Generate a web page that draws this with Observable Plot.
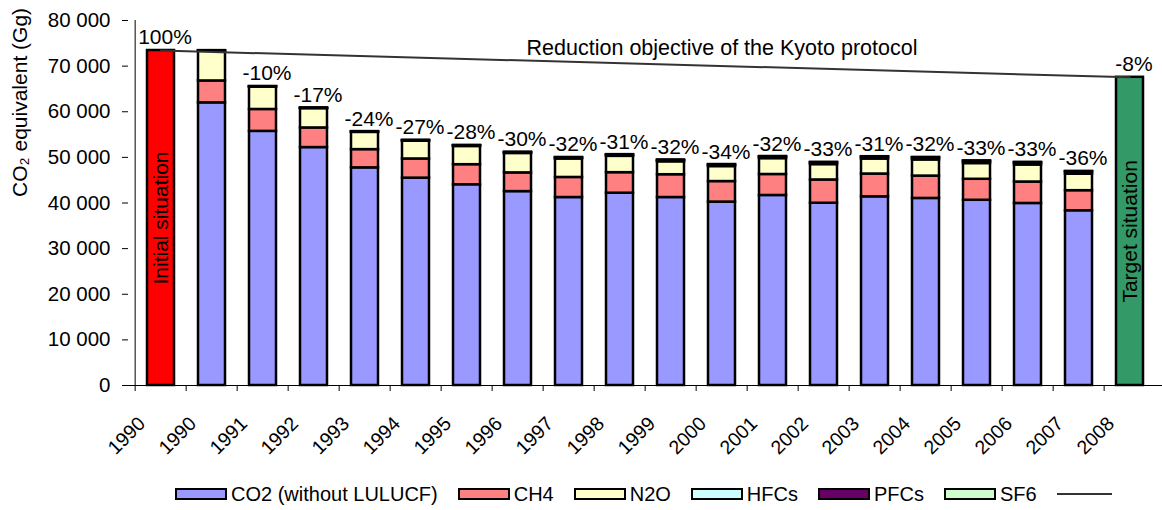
<!DOCTYPE html>
<html>
<head>
<meta charset="utf-8">
<script src="https://cdn.jsdelivr.net/npm/d3@7"></script>
<script src="https://cdn.jsdelivr.net/npm/@observablehq/plot@0.6"></script>
<style>
  html, body { margin: 0; padding: 0; background: #fff; }
  body { width: 1162px; height: 510px; overflow: hidden; font-family: "Liberation Sans", Arial, sans-serif; }
  #legend { display: flex; align-items: center; height: 32px; padding-left: 175px; font-size: 20px; color: #000; margin-top: 5px; }
  #legend .item { display: flex; align-items: center; margin-right: 20px; }
  #legend .sw { display: inline-block; width: 48px; height: 8px; border: 2px solid #000; margin-right: 4px; }
  #legend .ln { display: inline-block; width: 55px; height: 2px; background: #333; }
</style>
</head>
<body>
<div id="chart"></div>
<div id="legend"></div>
<script>
// ---- data ----
const keys = ["init", "1990", "1991", "1992", "1993", "1994", "1995", "1996", "1997", "1998", "1999",
              "2000", "2001", "2002", "2003", "2004", "2005", "2006", "2007", "target"];
const tickLabels = ["1990", "1990", "1991", "1992", "1993", "1994", "1995", "1996", "1997", "1998", "1999",
                    "2000", "2001", "2002", "2003", "2004", "2005", "2006", "2007", "2008"];
const years = ["1990", "1991", "1992", "1993", "1994", "1995", "1996", "1997", "1998", "1999",
               "2000", "2001", "2002", "2003", "2004", "2005", "2006", "2007"];
const co2  = [61950, 55700, 52150, 47700, 45450, 44000, 42500, 41200, 42150, 41200, 40200, 41650, 39950, 41350, 41000, 40600, 39900, 38300];
const ch4  = [4800, 4800, 4300, 4000, 4200, 4400, 4100, 4400, 4500, 5000, 4500, 4600, 5100, 5000, 4900, 4600, 4700, 4400];
const n2o  = [6550, 4930, 4250, 3780, 3890, 3990, 4260, 4050, 3580, 2830, 3290, 3480, 3370, 3290, 3540, 3450, 3730, 3610];
const hfcs = [0, 10, 30, 70, 110, 140, 170, 220, 260, 280, 330, 350, 390, 410, 450, 470, 490, 530];
const pfcs = [40, 40, 30, 30, 20, 20, 20, 20, 20, 20, 10, 10, 10, 10, 10, 10, 10, 10];
const sf6  = [60, 60, 70, 70, 80, 80, 80, 90, 90, 90, 100, 100, 100, 90, 90, 90, 80, 80];
const seriesNames = ["CO2 (without LULUCF)", "CH4", "N2O", "HFCs", "PFCs", "SF6"];
const seriesColors = ["#9999ff", "#ff8080", "#ffffcc", "#ccffff", "#660066", "#ccffcc"];
const initialValue = 73425;
const targetValue = 67550;
const initialLabel = "Initial situation";
const targetLabel = "Target situation";
const pctKeys = ["init", "1991", "1992", "1993", "1994", "1995", "1996", "1997", "1998", "1999",
                 "2000", "2001", "2002", "2003", "2004", "2005", "2006", "2007", "target"];
const pctLabels = ["100%", "-10%", "-17%", "-24%", "-27%", "-28%", "-30%", "-32%", "-31%", "-32%",
                   "-34%", "-32%", "-33%", "-31%", "-32%", "-33%", "-33%", "-36%", "-8%"];
const kyotoKeys = ["init", "target"];
const kyotoValues = [initialValue, targetValue];
const kyotoText = "Reduction objective of the Kyoto protocol";
const kyotoTextKey = "2000";
const kyotoTextValue = 74000;
const yTicks = [0, 10000, 20000, 30000, 40000, 50000, 60000, 70000, 80000];
const yLabel = "CO\u2082 equivalent (Gg)";

// ---- tables ----
const seriesValues = [co2, ch4, n2o, hfcs, pfcs, sf6];
const rows = [];
years.forEach((yr, i) => seriesNames.forEach((s, j) => rows.push({key: yr, series: s, value: seriesValues[j][i]})));
const totals = new Map(years.map((yr, i) => [yr, seriesValues.reduce((a, arr) => a + arr[i], 0)]));
totals.set("init", initialValue);
totals.set("target", targetValue);
const pctRows = pctKeys.map((k, i) => ({key: k, value: totals.get(k), label: pctLabels[i]}));
const kyoto = kyotoKeys.map((k, i) => ({key: k, value: kyotoValues[i]}));

// ---- layout ----
const W = 1162, H = 473;
const mL = 128, mR = 0, mT = 20, mB = H - 385;
const step = (W - mL - mR) / keys.length;
const fmt = d => d3.format(",")(d).replace(/,/g, " ");

const chart = Plot.plot({
  width: W, height: H,
  marginLeft: mL, marginRight: mR, marginTop: mT, marginBottom: mB,
  style: {fontFamily: "'Liberation Sans', Arial, sans-serif", fontSize: "20px", color: "#000", background: "#fff", overflow: "visible"},
  x: {domain: keys, paddingInner: 0.48, paddingOuter: 0.24, axis: null},
  y: {domain: [0, 80000], axis: null},
  color: {domain: seriesNames, range: seriesColors},
  marks: [
    Plot.barY(rows, {x: "key", y: "value", fill: "series", stroke: "#000", strokeWidth: 2.5}),
    Plot.barY([{key: "init", value: initialValue}], {x: "key", y: "value", fill: "#ff0000", stroke: "#000", strokeWidth: 2.5}),
    Plot.barY([{key: "target", value: targetValue}], {x: "key", y: "value", fill: "#339966", stroke: "#000", strokeWidth: 2.5}),
    Plot.text([{key: "init", value: initialValue / 2, t: initialLabel}], {x: "key", y: "value", text: "t", rotate: -90, fontSize: 21, fill: "#000"}),
    Plot.text([{key: "target", value: targetValue / 2, t: targetLabel}], {x: "key", y: "value", text: "t", rotate: -90, fontSize: 21, fill: "#000"}),
    Plot.line(kyoto, {x: "key", y: "value", stroke: "#333", strokeWidth: 2}),
    Plot.text([{key: kyotoTextKey, value: kyotoTextValue, t: kyotoText}], {x: "key", y: "value", text: "t", fontSize: 21.5, fill: "#000"}),
    Plot.text(pctRows, {x: "key", y: "value", text: "label", lineAnchor: "bottom", dy: -6, dx: 4, fontSize: 21, fill: "#000"}),
    Plot.ruleY([0], {stroke: "#000", strokeWidth: 1}),
    Plot.ruleX([keys[0]], {y1: 0, y2: 80000, dx: -step / 2, stroke: "#000", strokeWidth: 1}),
    Plot.axisY({ticks: yTicks, tickFormat: fmt, tickSize: 6, tickPadding: 12, fontSize: 20.5, label: null, stroke: "#000"}),
    Plot.text([yLabel], {frameAnchor: "left", dx: -108, dy: -6, rotate: -90, fontSize: 21, fill: "#000"}),
    Plot.axisX({ticks: keys, tickSize: 6, tickFormat: () => "", dx: -step / 2, label: null, stroke: "#000"}),
    Plot.axisX({ticks: keys, tickSize: 0, tickRotate: -45, tickPadding: 35, tickFormat: d => tickLabels[keys.indexOf(d)], fontSize: 19.5, label: null, dx: -19})
  ]
});
document.getElementById("chart").appendChild(chart);

// ---- legend ----
const legend = document.getElementById("legend");
seriesNames.forEach((s, i) => {
  const it = document.createElement("span");
  it.className = "item";
  const sw = document.createElement("span");
  sw.className = "sw";
  sw.style.background = seriesColors[i];
  it.appendChild(sw);
  it.appendChild(document.createTextNode(s));
  legend.appendChild(it);
});
const li = document.createElement("span");
li.className = "item";
const ln = document.createElement("span");
ln.className = "ln";
li.appendChild(ln);
legend.appendChild(li);
</script>
</body>
</html>
